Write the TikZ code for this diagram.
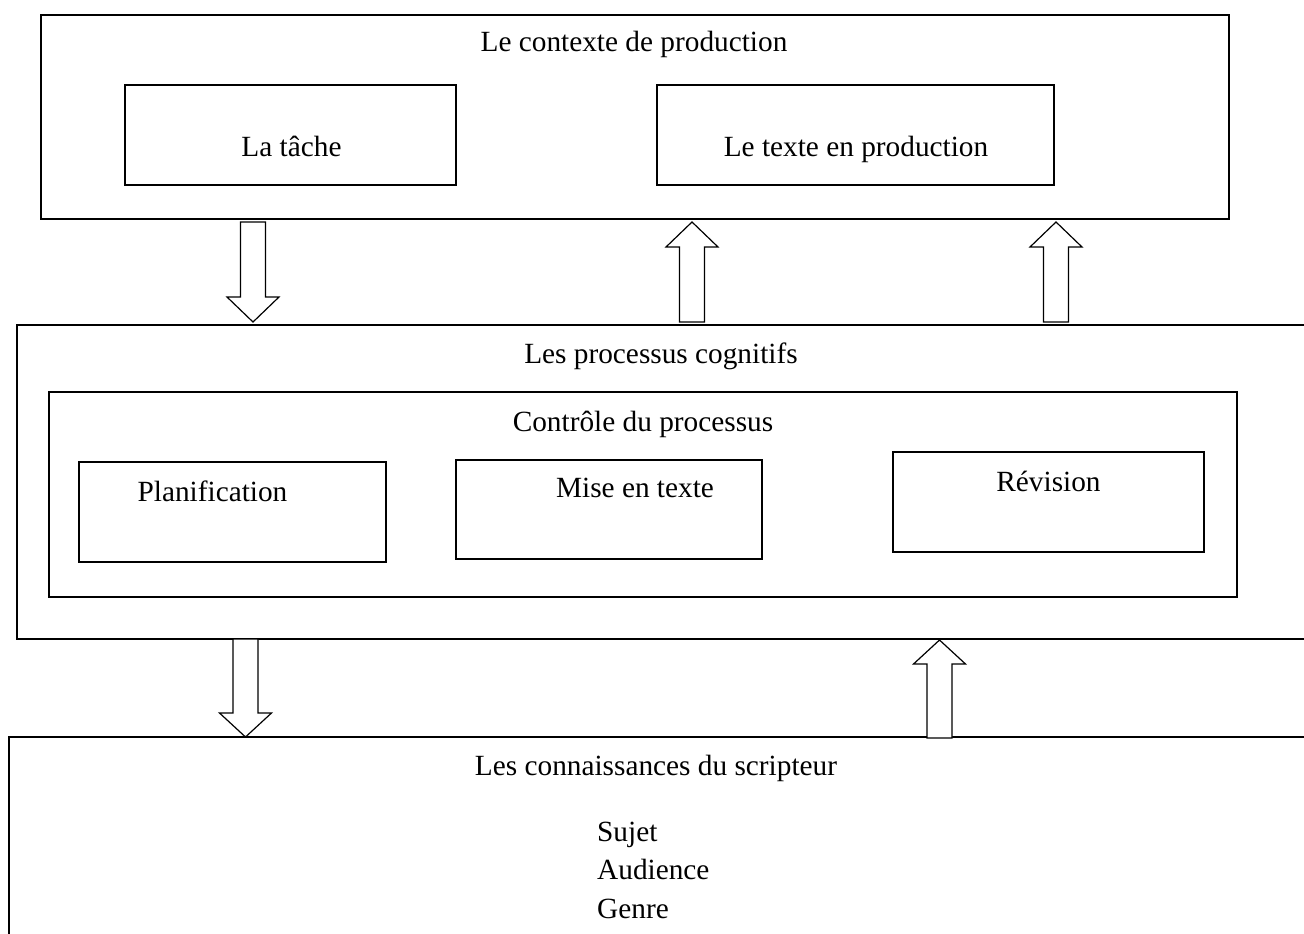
\documentclass[tikz,border=0pt]{standalone}
\usepackage{fontspec}
\setmainfont{Liberation Serif}
\usetikzlibrary{calc}
\tikzset{
  box/.style={draw, line width=1.2pt, inner sep=0pt, outer sep=0pt},
  lbl/.style={inner sep=0pt, anchor=base, font=\fontsize{29.3}{35}\selectfont},
  lblw/.style={lbl, anchor=base west},
  blk/.style={draw, line width=1.2pt, fill=white, line join=miter}
}
% block arrow from #1 to #2; #3 = -25 (pointing down) or 25 (pointing up)
\newcommand\blkarrow[3]{%
  \draw[blk] ($(#1)+(-12.5,0)$) -- ($(#1)+(12.5,0)$) -- ($(#2)+(12.5,#3)$)
    -- ($(#2)+(26,#3)$) -- (#2) -- ($(#2)+(-26,#3)$) -- ($(#2)+(-12.5,#3)$) -- cycle;}
\begin{document}
\begin{tikzpicture}[x=1pt, y=-1pt]
\useasboundingbox (0,0) rectangle (1304,934);
\clip (0,0) rectangle (1304,934);
\fill[white] (0,0) rectangle (1304,934);

% boxes
\node[box, minimum width=1188, minimum height=204] (ctx) at (635,117) {};
\node[box, minimum width=331, minimum height=100] (tache) at (290.5,135) {};
\node[box, minimum width=397, minimum height=100] (texte) at (855.5,135) {};
\node[box, minimum width=1313, minimum height=314] (proc) at (673.5,482) {};
\node[box, minimum width=1188, minimum height=205] (ctrl) at (643,494.5) {};
\node[box, minimum width=307, minimum height=100] (plan) at (232.5,512) {};
\node[box, minimum width=306, minimum height=99] (mise) at (609,509.5) {};
\node[box, minimum width=311, minimum height=100] (rev) at (1048.5,502) {};
\node[box, minimum width=1321, minimum height=223] (know) at (669.5,848.5) {};

% labels
\node[lbl] (tctx) at (634,52) {Le contexte de production};
\node[lbl] (ttache) at (291.5,156) {La tâche};
\node[lbl] (ttexte) at (856,156) {Le texte en production};
\node[lbl] (tproc) at (661,363) {Les processus cognitifs};
\node[lbl] (tctrl) at (643,431) {Contrôle du processus};
\node[lbl] (tplan) at (212.5,501) {Planification};
\node[lbl] (tmise) at (635,497) {Mise en texte};
\node[lbl] (trev) at (1048.5,491) {Révision};
\node[lbl] (tknow) at (656,775) {Les connaissances du scripteur};
\node[lblw] (tsujet) at (597,841) {Sujet};
\node[lblw] (taud) at (597,879) {Audience};
\node[lblw] (tgenre) at (597,918) {Genre};

% arrow end points
\coordinate (a1s) at (253,222);   \coordinate (a1e) at (253,322);
\coordinate (a2s) at (692,322);   \coordinate (a2e) at (692,222);
\coordinate (a3s) at (1056,322);  \coordinate (a3e) at (1056,222);
\coordinate (a4s) at (245.5,639); \coordinate (a4e) at (245.5,737);
\coordinate (a5s) at (939.5,738); \coordinate (a5e) at (939.5,640);

\blkarrow{a1s}{a1e}{-25}
\blkarrow{a2s}{a2e}{25}
\blkarrow{a3s}{a3e}{25}
\blkarrow{a4s}{a4e}{-24}
\blkarrow{a5s}{a5e}{24}
\end{tikzpicture}
\end{document}
